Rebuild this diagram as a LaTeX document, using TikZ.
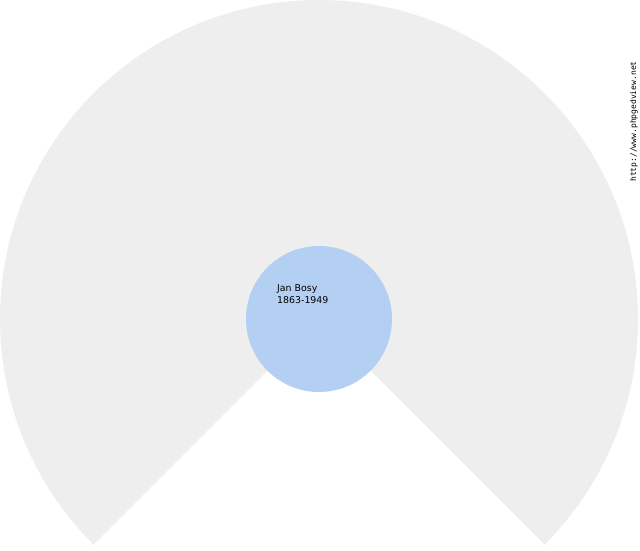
\documentclass[tikz,border=0pt]{standalone}
\usepackage{fontspec}
\setmainfont{DejaVu Sans}
\newfontfamily\urlfont{DejaVu Sans Mono}
\definecolor{fangrey}{HTML}{EEEEEE}
\definecolor{rootblue}{HTML}{B3D0F3}
\tikzset{
  fan/.style={fill=fangrey, draw=none},
  rootcircle/.style={draw=none, fill=rootblue, shape=circle, minimum size=146pt, inner sep=0pt},
  namelabel/.style={align=left, font=\fontsize{9.4}{12}\selectfont, inner sep=0pt, anchor=north west},
  sitelabel/.style={font=\urlfont\fontsize{8}{8}\selectfont, rotate=90, inner sep=0pt}
}
\begin{document}
\begin{tikzpicture}[x=1pt,y=-1pt]
    \useasboundingbox (0,0) rectangle (640,550);
    \coordinate (C) at (319,319);
    \fill[fan] (C) -- ++(-45:319pt) arc[start angle=-45, end angle=225, radius=319pt] -- cycle;

    \node[rootcircle] (root) at (C) {};
    \node[namelabel] (name) at (277,284.5) {Jan Bosy\\1863-1949};

    \node[sitelabel] (site) at (634,121.5) {http://www.phpgedview.net};
\end{tikzpicture}
\end{document}
